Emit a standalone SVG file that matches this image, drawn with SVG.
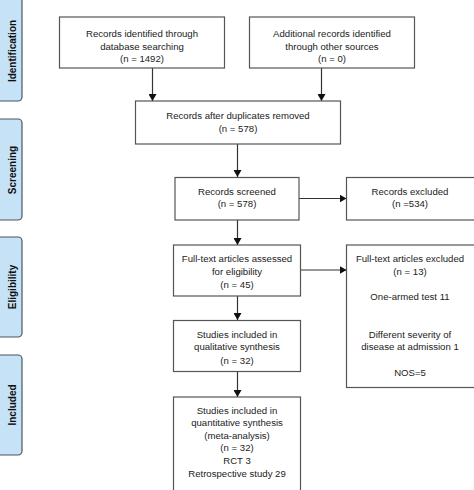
<svg xmlns="http://www.w3.org/2000/svg" width="474" height="490" viewBox="0 0 474 490">
<style>
.box{fill:#fff;stroke:#555;stroke-width:1.2}
.side{fill:#c6e2f6;stroke:#4a5560;stroke-width:1.2}
text{font-family:"Liberation Sans",Arial,sans-serif;font-size:9.6px;fill:#222;text-anchor:middle}
.st{font-size:10px;font-weight:bold;fill:#111}
.con{stroke:#333;stroke-width:1.2;fill:none;marker-end:url(#ah)}
</style>
<defs>
<marker id="ah" markerWidth="7" markerHeight="8" refX="7" refY="4" orient="auto" markerUnits="userSpaceOnUse">
<path d="M0,0 L7,4 L0,8 Z" fill="#111"/>
</marker>
</defs>
<rect width="474" height="490" fill="#fff"/>
<g id="side-identification"><rect class="side" x="-6" y="-4" width="28" height="105" rx="4"/><text class="st" transform="translate(15.5,51) rotate(-90)">Identification</text></g>
<g id="side-screening"><rect class="side" x="-6" y="119" width="28" height="101" rx="4"/><text class="st" transform="translate(15.5,170) rotate(-90)">Screening</text></g>
<g id="side-eligibility"><rect class="side" x="-6" y="237" width="28" height="100" rx="4"/><text class="st" transform="translate(15.5,287) rotate(-90)">Eligibility</text></g>
<g id="side-included"><rect class="side" x="-6" y="355" width="28" height="100" rx="4"/><text class="st" transform="translate(15.5,405) rotate(-90)">Included</text></g>

<g id="connectors">
<line class="con" x1="152.5" y1="68" x2="152.5" y2="101"/>
<line class="con" x1="321.5" y1="68" x2="321.5" y2="101"/>
<line class="con" x1="237.5" y1="144" x2="237.5" y2="177"/>
<line class="con" x1="299" y1="198.5" x2="346.5" y2="198.5"/>
<line class="con" x1="237.5" y1="220" x2="237.5" y2="245"/>
<line class="con" x1="300" y1="270" x2="346.5" y2="270"/>
<line class="con" x1="237.5" y1="296" x2="237.5" y2="320"/>
<line class="con" x1="237.5" y1="372" x2="237.5" y2="397"/>
</g>

<g id="n1"><rect class="box" x="59.5" y="17" width="165" height="51"/>
<text x="142" y="36.8">Records identified through</text><text x="142" y="49.5">database searching</text><text x="142" y="62">(n = 1492)</text></g>
<g id="n2"><rect class="box" x="249.5" y="17" width="165" height="51"/>
<text x="332" y="36.8">Additional records identified</text><text x="332" y="49.5">through other sources</text><text x="332" y="62">(n = 0)</text></g>
<g id="n3"><rect class="box" x="135.5" y="101" width="205" height="43"/>
<text x="238" y="118.8">Records after duplicates removed</text><text x="238" y="131.5">(n = 578)</text></g>
<g id="n4"><rect class="box" x="175" y="177.5" width="124" height="42.5"/>
<text x="237" y="194.5">Records screened</text><text x="237" y="207">(n = 578)</text></g>
<g id="n5"><rect class="box" x="346.5" y="177.5" width="130" height="42.5"/>
<text x="410" y="194.5">Records excluded</text><text x="410" y="207">(n =534)</text></g>
<g id="n6"><rect class="box" x="173.5" y="245" width="127" height="51"/>
<text x="237" y="262.2">Full-text articles assessed</text><text x="237" y="274.6">for eligibility</text><text x="237" y="287.5">(n = 45)</text></g>
<g id="n7"><rect class="box" x="346.5" y="245" width="130" height="142.5"/>
<text x="410" y="262.2">Full-text articles excluded</text><text x="410" y="274.6">(n = 13)</text><text x="410" y="299.5">One-armed test 11</text><text x="410" y="337.8">Different severity of</text><text x="410" y="350.2">disease at admission 1</text><text x="410" y="375.5">NOS=5</text></g>
<g id="n8"><rect class="box" x="173.5" y="320.5" width="127" height="51"/>
<text x="237" y="337.8">Studies included in</text><text x="237" y="350.2">qualitative synthesis</text><text x="237" y="363.5">(n = 32)</text></g>
<g id="n9"><rect class="box" x="173.5" y="397" width="127" height="100"/>
<text x="237" y="413.5">Studies included in</text><text x="237" y="426.2">quantitative synthesis</text><text x="237" y="438.8">(meta-analysis)</text><text x="237" y="451.2">(n = 32)</text><text x="237" y="464.2">RCT 3</text><text x="237" y="476.8">Retrospective study 29</text></g>
</svg>
